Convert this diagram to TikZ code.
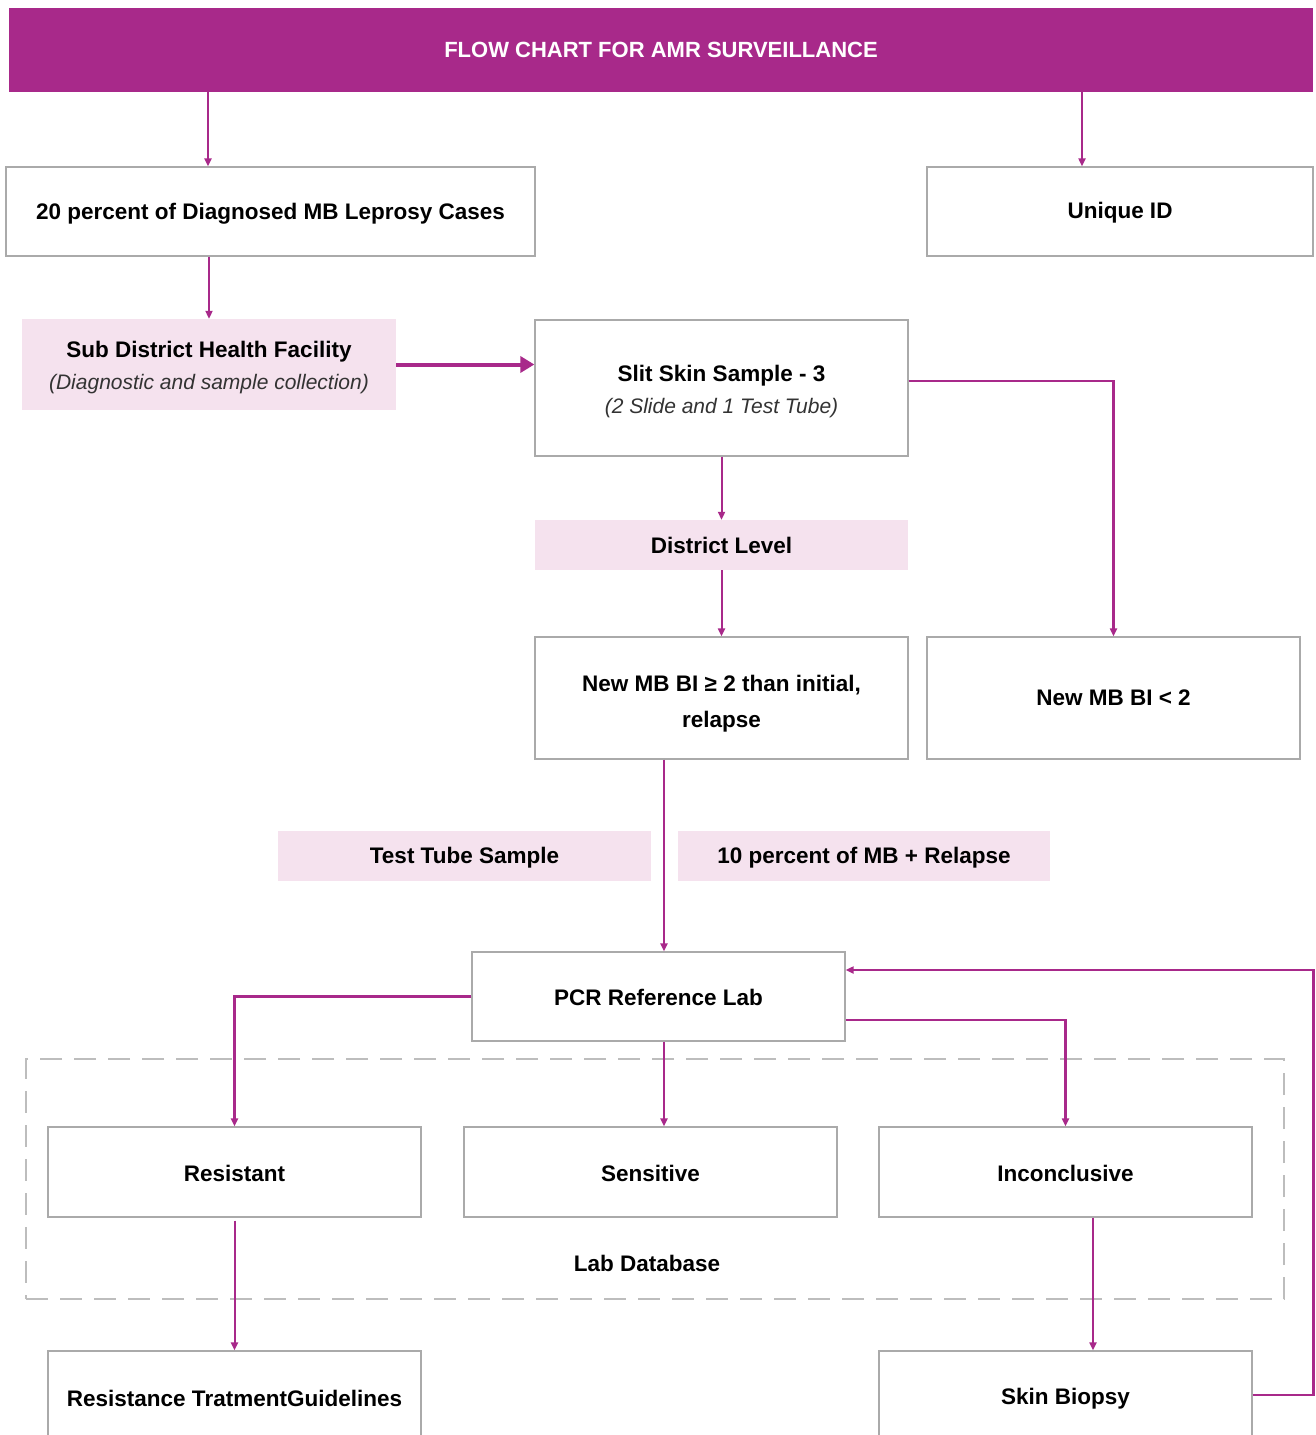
\documentclass[tikz,border=0pt]{standalone}
\usepackage{fontspec}
\setmainfont{Liberation Sans}
\usetikzlibrary{arrows.meta}
\definecolor{mag}{HTML}{A8298A}
\definecolor{pinkfill}{HTML}{F5E2EE}
\definecolor{boxgray}{HTML}{AAAAAA}
\definecolor{dashgray}{HTML}{BDBDBD}
\newcommand{\subtxt}[1]{{\normalfont\itshape\fontsize{21}{32}\selectfont\color{black!80}#1}}
\newcommand{\topstrut}[1]{\rule{0pt}{#1}}
\tikzset{
  box/.style={draw=boxgray, line width=1.3pt, fill=white, inner sep=0pt, align=center,
    font=\bfseries\fontsize{22.5}{36}\selectfont},
  pinkbox/.style={fill=pinkfill, inner sep=0pt, align=center,
    font=\bfseries\fontsize{22.5}{32}\selectfont},
  conn/.style={draw=mag, line width=2pt, -{Triangle[length=8pt,width=7pt]}},
  thickconn/.style={conn, line width=2.6pt},
  bigconn/.style={draw=mag, line width=4pt, -{Triangle[length=14pt,width=16pt]}},
  dashframe/.style={draw=dashgray, line width=2.5pt, dash pattern=on 22pt off 12pt, minimum width=1258pt, minimum height=240pt, inner sep=0pt},
}
\begin{document}
\begin{tikzpicture}[x=1pt,y=-1pt]
\useasboundingbox (0,0) rectangle (1316,1435);
% header
\node[fill=mag, minimum width=1304pt, minimum height=84pt, inner sep=0pt,
  text=white, font=\bfseries\fontsize{22}{26}\selectfont] (hdr) at (661,50) {FLOW CHART FOR AMR SURVEILLANCE};
% lab database frame
\node[dashframe] (labdb) at (655,1179) {};
\node[font=\bfseries\fontsize{22.5}{26}\selectfont] (labdbtxt) at (647,1263) {Lab Database};
% boxes
\node[box, minimum width=529pt, minimum height=89pt] (b1) at (270.5,211.5) {\topstrut{20pt}20 percent of Diagnosed MB Leprosy Cases};
\node[box, minimum width=386pt, minimum height=89pt] (uid) at (1120,211.5) {\topstrut{19pt}Unique ID};
\node[pinkbox, minimum width=374pt, minimum height=91pt] (sub) at (209,364.5)
  {\topstrut{22pt}Sub District Health Facility\\\subtxt{(Diagnostic and sample collection)}};
\node[box, minimum width=373pt, minimum height=136pt, font=\bfseries\fontsize{22.5}{32}\selectfont] (slit) at (721.5,388)
  {\topstrut{24pt}Slit Skin Sample - 3\\\subtxt{(2 Slide and 1 Test Tube)}};
\node[pinkbox, minimum width=373pt, minimum height=50pt] (dist) at (721.5,545) {District Level};
\node[box, minimum width=373pt, minimum height=122pt] (mbge) at (721.5,698) {\topstrut{28pt}New MB BI ≥ 2 than initial,\\relapse};
\node[box, minimum width=373pt, minimum height=122pt] (mblt) at (1113.5,698) {New MB BI < 2};
\node[pinkbox, minimum width=373pt, minimum height=50pt] (ttube) at (464.5,856) {\topstrut{20pt}Test Tube Sample};
\node[pinkbox, minimum width=372pt, minimum height=50pt] (tenp) at (864,856) {\topstrut{20pt}10 percent of MB + Relapse};
\node[box, minimum width=373pt, minimum height=89pt] (pcr) at (658.5,996.5) {\topstrut{19pt}PCR Reference Lab};
\node[box, minimum width=373pt, minimum height=90pt] (res) at (234.5,1172) {\topstrut{19pt}Resistant};
\node[box, minimum width=373pt, minimum height=90pt] (sen) at (650.5,1172) {\topstrut{19pt}Sensitive};
\node[box, minimum width=373pt, minimum height=90pt] (inc) at (1065.5,1172) {\topstrut{19pt}Inconclusive};
\node[box, minimum width=373pt, minimum height=94pt] (rtg) at (234.5,1398) {Resistance TratmentGuidelines};
\node[box, minimum width=373pt, minimum height=94pt] (sb) at (1065.5,1398) {\topstrut{18pt}Skin Biopsy};
% connectors
\draw[conn] ([xshift=-62.5pt]b1.north |- hdr.south) -- ([xshift=-62.5pt]b1.north);
\draw[conn] ([xshift=-38pt]uid.north |- hdr.south) -- ([xshift=-38pt]uid.north);
\draw[conn] (b1.south -| sub.north) -- (sub.north);
\draw[bigconn] (sub.east) -- (slit.west |- sub.east);
\draw[thickconn] ([yshift=7pt]slit.east) -| (mblt.north);
\draw[conn] (slit.south) -- (dist.north);
\draw[conn] (dist.south) -- (mbge.north);
\draw[conn] ([xshift=-57.5pt]mbge.south) -- ([xshift=5.5pt]pcr.north);
\draw[thickconn] (pcr.west) -| (res.north);
\draw[conn] ([xshift=5.5pt]pcr.south) -- ([xshift=13.5pt]sen.north);
\draw[thickconn] ([yshift=-23.5pt]pcr.east) -| (inc.north);
\draw[conn] ([yshift=-3pt]res.south) -- (rtg.north);
\draw[conn] ([xshift=27.5pt]inc.south) -- ([xshift=27.5pt]sb.north);
\draw[thickconn] ([yshift=3pt]sb.east) -- ++(61,0) |- ([yshift=26.5pt]pcr.east);
\end{tikzpicture}
\end{document}
